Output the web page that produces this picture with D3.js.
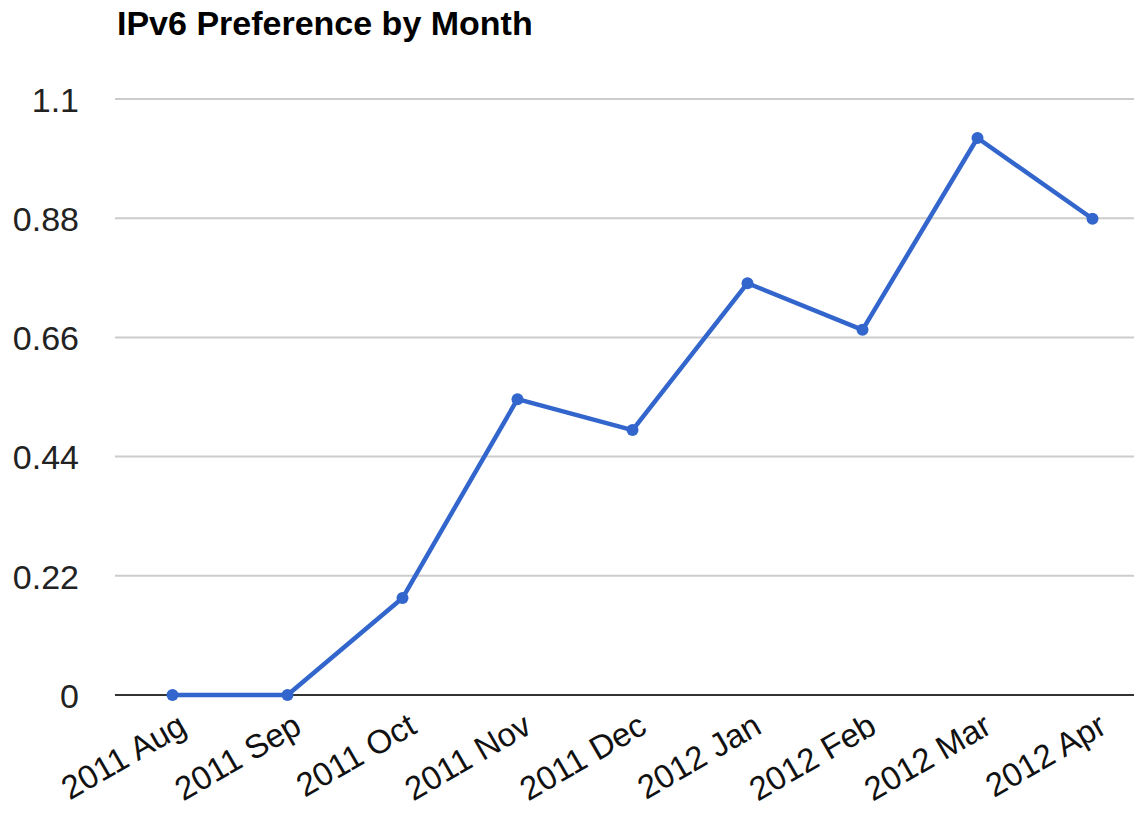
<!DOCTYPE html>
<html>
<head>
<meta charset="utf-8">
<script src="https://cdnjs.cloudflare.com/ajax/libs/d3/7.8.5/d3.min.js"></script>
<style>
  body { margin: 0; background: #fff; }
  svg { display: block; font-family: "Liberation Sans", Arial, sans-serif; }
</style>
</head>
<body>
<div id="chart-area"></div>
<script>
// Data
var months = ["2011 Aug", "2011 Sep", "2011 Oct", "2011 Nov", "2011 Dec",
              "2012 Jan", "2012 Feb", "2012 Mar", "2012 Apr"];
var preference = [0, 0, 0.179, 0.546, 0.489, 0.760, 0.674, 1.028, 0.879];
var yTicks = [0, 0.22, 0.44, 0.66, 0.88, 1.1];
var title = "IPv6 Preference by Month";

var width = 1134, height = 820;
var plot = { left: 115, right: 1150, top: 99, bottom: 695 };

var svg = d3.select("#chart-area")
    .append("svg")
        .attr("width", width)
        .attr("height", height);

// Title
svg.append("text")
    .attr("x", 117)
    .attr("y", 35)
    .attr("font-size", "34px")
    .attr("font-weight", "bold")
    .attr("fill", "#000")
    .text(title);

// X Scale
var x = d3.scaleBand()
    .domain(months)
    .range([plot.left, plot.right]);

// Y Scale
var y = d3.scaleLinear()
    .domain([0, 1.1])
    .range([plot.bottom, plot.top]);

// Gridlines
svg.append("g")
    .selectAll("line")
    .data(yTicks.filter(function(d){ return d !== 0; }))
    .enter().append("line")
        .attr("x1", plot.left)
        .attr("x2", width)
        .attr("y1", function(d){ return y(d); })
        .attr("y2", function(d){ return y(d); })
        .attr("stroke", "#cccccc")
        .attr("stroke-width", 2);

// Y Axis labels
var yAxisCall = d3.axisLeft(y)
    .tickValues(yTicks)
    .tickSize(0)
    .tickPadding(0)
    .tickFormat(function(d){ return d; });
var yAxis = svg.append("g")
    .attr("class", "y axis")
    .attr("transform", "translate(79,0)")
    .call(yAxisCall);
yAxis.select(".domain").remove();
yAxis.selectAll("text")
    .attr("font-size", "34px")
    .attr("font-family", "Liberation Sans, Arial, sans-serif")
    .attr("fill", "#222")
    .attr("dy", "0.36em");

// Baseline
svg.append("line")
    .attr("x1", plot.left)
    .attr("x2", width)
    .attr("y1", y(0))
    .attr("y2", y(0))
    .attr("stroke", "#333")
    .attr("stroke-width", 2);

// X Axis labels
var xAxisCall = d3.axisBottom(x)
    .tickSize(0)
    .tickPadding(0);
var xAxis = svg.append("g")
    .attr("class", "x axis")
    .attr("transform", "translate(0," + 732 + ")")
    .call(xAxisCall);
xAxis.select(".domain").remove();
xAxis.selectAll("text")
    .attr("font-size", "33px")
    .attr("font-family", "Liberation Sans, Arial, sans-serif")
    .attr("fill", "#111")
    .attr("text-anchor", "end")
    .attr("dy", 0)
    .attr("y", 0)
    .attr("x", 0)
    .attr("transform", "translate(16,0) rotate(-30)");

// Line
var line = d3.line()
    .x(function(d, i){ return x(months[i]) + x.bandwidth() / 2; })
    .y(function(d){ return y(d); });

svg.append("path")
    .datum(preference)
    .attr("fill", "none")
    .attr("stroke", "#3366cc")
    .attr("stroke-width", 4.5)
    .attr("stroke-linejoin", "round")
    .attr("d", line);

// Points
svg.selectAll("circle")
    .data(preference)
    .enter().append("circle")
        .attr("cx", function(d, i){ return x(months[i]) + x.bandwidth() / 2; })
        .attr("cy", function(d){ return y(d); })
        .attr("r", 6)
        .attr("fill", "#3366cc");
</script>
</body>
</html>
